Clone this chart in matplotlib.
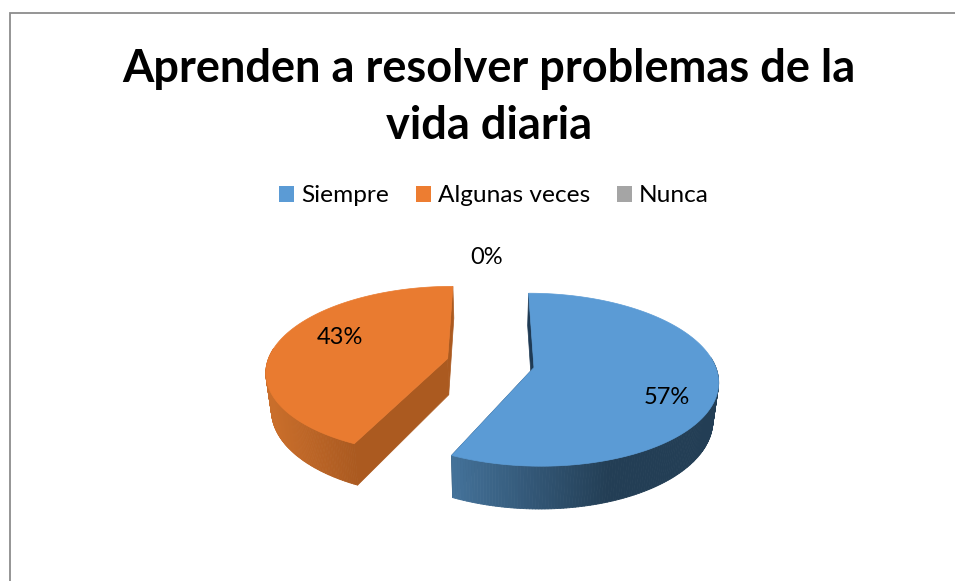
import numpy as np
import matplotlib
matplotlib.use("Agg")
import matplotlib.pyplot as plt
from matplotlib.patches import Polygon, Patch
from matplotlib.collections import PolyCollection
from matplotlib.colors import to_rgb

categories = ["Siempre", "Algunas veces", "Nunca"]
values = [57, 43, 0]
pct_labels = ["57%", "43%", "0%"]
title = "Aprenden a resolver problemas de la\nvida diaria"
legend_colors = ["#5B9BD5", "#ED7D31", "#A5A5A5"]
top_colors = ["#5B9BD5", "#E97B30", "#A5A5A5"]
side_left = ["#44729A", "#C96E2B", "#808080"]
side_right = ["#233E55", "#AB5A20", "#606060"]
cut_colors = ["#1F3A54", "#AB5A20", "#606060"]

CX, CY = 490.5, 363.0
RX, RY, PERSP = 180.5, 83.5, 0.14
DEPTH, BOTTOM_SCALE, EXPLODE = 36.5, 0.975, 0.245
FONT = "Lato"


def project(u, v, lower=False):
    u, v = np.asarray(u, float), np.asarray(v, float)
    w = 1 + PERSP * v
    x, y = RX * u / w, -RY * v / w
    if lower:
        x = x * BOTTOM_SCALE
        y = y + DEPTH / w
    return CX + x, CY + y


def face(us, vs):
    xt, yt = project(us, vs)
    xb, yb = project(us[::-1], vs[::-1], lower=True)
    return np.column_stack([np.r_[xt, xb], np.r_[yt, yb]])


fig = plt.figure(figsize=(9.55, 5.81), dpi=100)
ax = fig.add_axes([0, 0, 1, 1])
ax.set_xlim(0, 955)
ax.set_ylim(581, 0)
ax.axis("off")

ax.plot([9.5, 9.5, 955], [581, 12.5, 12.5], color="#8C8C8C", lw=1.3,
        solid_joinstyle="miter")

fractions = np.array(values, float) / sum(values)
edges = np.r_[0, np.cumsum(fractions)] * 2 * np.pi

for i, val in enumerate(values):
    if val == 0:
        continue
    a0, a1 = edges[i], edges[i + 1]
    mid = (a0 + a1) / 2
    ou, ov = EXPLODE * np.sin(mid), EXPLODE * np.cos(mid)
    th = np.linspace(a0, a1, 240)
    us, vs = ou + np.sin(th), ov + np.cos(th)

    # cut faces
    for a in (a0, a1):
        cu = np.array([ou, ou + np.sin(a)])
        cv = np.array([ov, ov + np.cos(a)])
        ax.add_patch(Polygon(face(cu, cv), closed=True, fc=cut_colors[i],
                             ec=cut_colors[i], lw=0.5, zorder=2))

    # outer wall, shaded by its position along the front
    xt, yt = project(us, vs)
    xb, yb = project(us, vs, lower=True)
    quads, cols = [], []
    c0, c1 = np.array(to_rgb(side_left[i])), np.array(to_rgb(side_right[i]))
    x_start, x_end = (453, 610) if i == 0 else (272, 355)
    for k in range(len(th) - 1):
        if vs[k] > ov + 0.12:
            continue
        quads.append([(xt[k], yt[k]), (xt[k + 1], yt[k + 1]),
                      (xb[k + 1], yb[k + 1]), (xb[k], yb[k])])
        t = np.clip((xt[k] - x_start) / (x_end - x_start), 0, 1)
        cols.append(c0 + (c1 - c0) * t)
    ax.add_collection(PolyCollection(quads, facecolors=cols, edgecolors=cols,
                                     linewidths=0.6, zorder=3))

    # top face
    pu = np.r_[ou, us]
    pv = np.r_[ov, vs]
    xp, yp = project(pu, pv)
    ax.add_patch(Polygon(np.column_stack([xp, yp]), closed=True,
                         fc=top_colors[i], ec=top_colors[i], lw=0.5, zorder=4))

label_xy = [(667, 397), (340, 337), (487, 257)]
for txt, (lx, ly) in zip(pct_labels, label_xy):
    ax.text(lx, ly, txt, ha="center", va="center", fontsize=17,
            family=FONT, color="black", zorder=6)

ax.text(489, 97.5, title, ha="center", va="center", fontsize=32.5,
        family=FONT, fontweight="bold", color="black", linespacing=1.42)

handles = [Patch(fc=c, ec=c, lw=0) for c in legend_colors]
leg = ax.legend(handles, categories, ncol=3, frameon=False, loc="center",
                bbox_to_anchor=(494, 196), bbox_transform=ax.transData,
                prop={"family": FONT, "size": 17.6},
                handlelength=0.6, handleheight=0.6, handletextpad=0.28,
                columnspacing=1.12, borderpad=0, borderaxespad=0)

fig.savefig("out.png", dpi=100)
